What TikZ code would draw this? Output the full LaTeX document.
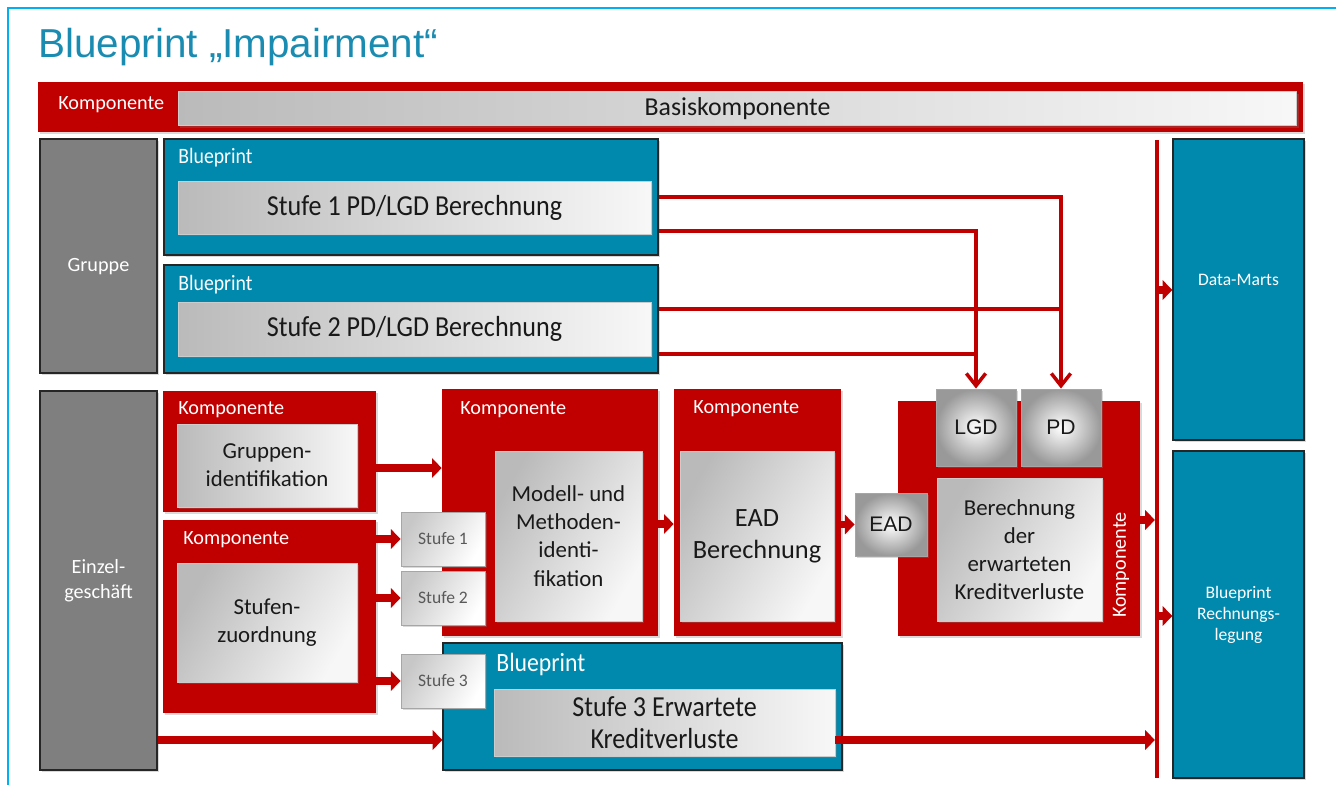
\documentclass[tikz,border=0pt]{standalone}
\usepackage{fontspec}
\setmainfont{Carlito}
\newfontfamily\arialfont{Liberation Sans}
\newfontfamily\narrowfont[FakeStretch=0.9]{Carlito}
\usetikzlibrary{arrows.meta, shadows, calc}
\definecolor{IMRed}{RGB}{192,0,0}
\definecolor{IMTeal}{RGB}{0,137,173}
\definecolor{IMTitle}{RGB}{26,140,178}
\definecolor{IMFrame}{RGB}{0,176,240}
\definecolor{IMGray}{RGB}{127,127,127}

\begin{document}
\begin{tikzpicture}[x=0.02cm, y=-0.02cm,
            shade/.style={drop shadow={shadow xshift=1.2pt, shadow yshift=-1.2pt, opacity=0.3}},
            comp/.style={rectangle, fill=IMRed, inner sep=0pt, shade},
            comptag/.style={anchor=west, inner sep=0pt, text=white,
                            font=\fontsize{11.5}{14}\selectfont},
            bp/.style={rectangle, fill=IMTeal, draw=black!85, line width=0.8pt,
                       text=white, align=center, font=\fontsize{10}{12}\selectfont, shade},
            bptag/.style={anchor=west, inner sep=0pt, text=white,
                          font=\narrowfont\fontsize{12.5}{15}\selectfont},
            lvl/.style={rectangle, fill=IMGray, draw=black!85, line width=0.8pt,
                        text=white, align=center, font=\fontsize{11.5}{14}\selectfont, shade},
            pane/.style={rectangle, left color=black!27, right color=black!3,
                         draw=black!20, line width=0.5pt, align=center, text=black!90,
                         font=\fontsize{13}{16}\selectfont, shade},
            diag/.style={shading angle=60},
            stufebox/.style={rectangle, left color=black!22, right color=white, shading angle=60,
                             draw=black!35, line width=0.5pt, text=black!65,
                             minimum width=1.68cm, minimum height=1.08cm,
                             font=\fontsize{10}{12}\selectfont, shade},
            knob/.style={rectangle, inner color=white, outer color=black!40,
                         draw=black!35, line width=0.5pt, text=black!90,
                         font=\arialfont\fontsize{12}{14}\selectfont, shade},
            wire/.style={IMRed, line width=2pt},
            link/.style={wire, -{Straight Barb[length=7pt, width=11pt]}},
            flow/.style={IMRed, line width=4.5pt, -{Triangle[length=5.5pt, width=11pt]}}
          ]
          \useasboundingbox (0,0) rectangle (1336,785);
          \draw[IMFrame, line width=1.2pt] (8,785) -- (8,8) -- (1336,8);
          \node[anchor=base west, inner sep=0pt, text=IMTitle,
                font=\arialfont\fontsize{23}{28}\selectfont] (title) at (38,57) {Blueprint „Impairment“};

          \node[comp, minimum width=25.3cm, minimum height=1cm] (basis) at (670.5,107) {};
          \node[comptag] at (58,105) {Komponente};
          \node[pane, minimum width=22.38cm, minimum height=0.62cm,
                font=\fontsize{14.7}{17}\selectfont] (basisin) at (737.5,108.5) {Basiskomponente};

          \node[lvl, minimum width=2.34cm, minimum height=4.68cm,
                text height=18pt, text depth=0pt] (grp) at (98.5,256) {Gruppe};
          \node[lvl, minimum width=2.34cm, minimum height=7.58cm] (einz) at (98.5,580.5) {Einzel-\\gesch\"aft};

          \node[bp, minimum width=9.88cm, minimum height=2.32cm] (bp1) at (411,197) {};
          \node[bptag] at (178,158) {Blueprint};
          \node[pane, minimum width=9.46cm, minimum height=1.06cm,
                font=\narrowfont\fontsize{16.5}{18}\selectfont] (s1pd) at (414.5,207.5) {Stufe 1 PD/LGD Berechnung};
          \node[bp, minimum width=9.88cm, minimum height=2.16cm] (bp2) at (411,319) {};
          \node[bptag] at (178,285) {Blueprint};
          \node[pane, minimum width=9.46cm, minimum height=1.08cm,
                font=\narrowfont\fontsize{16.5}{18}\selectfont] (s2pd) at (414.5,329) {Stufe 2 PD/LGD Berechnung};

          \node[bp, minimum width=2.62cm, minimum height=6.02cm,
                text height=6pt, text depth=11pt] (dm) at (1238.5,289.5) {Data-Marts};
          \node[bp, minimum width=2.62cm, minimum height=6.54cm] (rl) at (1238.5,614.5) {Blueprint\\Rechnungs-\\legung};
          \coordinate (railtop) at (1157,140);
          \coordinate (railbot) at (1157,778);
          \draw[IMRed, line width=2.5pt] (railtop) -- (railbot);

          \node[comp, minimum width=4.26cm, minimum height=2.42cm] (gcomp) at (269.5,451.5) {};
          \node[comptag] at (178,410) {Komponente};
          \node[pane, minimum width=3.6cm, minimum height=1.66cm] (gid) at (267,465.5) {Gruppen-\\identifikation};
          \node[comp, minimum width=4.26cm, minimum height=3.86cm] (scomp) at (269.5,616.5) {};
          \node[comptag] at (183,540) {Komponente};
          \node[pane, diag, minimum width=3.6cm, minimum height=2.38cm] (szu) at (267,622.5) {Stufen-\\zuordnung};

          \node[comp, minimum width=4.32cm, minimum height=4.94cm] (mcomp) at (550,512.5) {};
          \node[comptag] at (460,410) {Komponente};
          \node[pane, diag, minimum width=2.94cm, minimum height=3.4cm] (mid) at (568.5,536)
                {Modell- und\\Methoden-\\identi-\\fikation};

          \node[bp, minimum width=7.98cm, minimum height=2.54cm] (bp3) at (642.5,706.5) {};
          \node[bptag, font=\narrowfont\fontsize{15}{18}\selectfont] at (496,664) {Blueprint};
          \node[pane, minimum width=6.82cm, minimum height=1.34cm,
                font=\narrowfont\fontsize{16.5}{18}\selectfont] (s3e) at (664.5,722.5) {Stufe 3 Erwartete\\Kreditverluste};

          \node[stufebox] (st1) at (443,539) {Stufe 1};
          \node[stufebox] (st2) at (443,598) {Stufe 2};
          \node[stufebox] (st3) at (443,681) {Stufe 3};

          \node[comp, minimum width=3.34cm, minimum height=4.94cm] (ecomp) at (757.5,512.5) {};
          \node[comptag] at (693,409) {Komponente};
          \node[pane, diag, minimum width=3.08cm, minimum height=3.4cm,
                font=\fontsize{15}{18}\selectfont] (eadb) at (757,536) {EAD\\Berechnung};

          \node[comp, minimum width=4.84cm, minimum height=4.7cm] (bcomp) at (1019,518.5) {};
          \node[comptag, rotate=90, anchor=center] at (1121,565) {Komponente};
          \node[knob, minimum width=1.6cm, minimum height=1.54cm] (lgd) at (976,427.5) {LGD};
          \node[knob, minimum width=1.6cm, minimum height=1.54cm] (pd) at (1061,427.5) {PD};
          \node[pane, diag, minimum width=3.3cm, minimum height=2.86cm] (bev) at (1019.5,549.5)
                {Berechnung\\der\\erwarteten\\Kreditverluste};
          \node[knob, minimum width=1.44cm, minimum height=1.26cm] (ead) at (891,524.5) {EAD};

          \draw[link] (bp1.east |- 0,197) -| (pd.north);
          \draw[link] (bp1.east |- 0,231) -| (lgd.north);
          \draw[wire] (bp2.east |- 0,309) -- (pd.north |- 0,309);
          \draw[wire] (bp2.east |- 0,354) -- (lgd.north |- 0,354);

          \draw[flow] (gcomp.east |- 0,468) -- (mcomp.west |- 0,468);
          \draw[flow] (scomp.east |- st1.west) -- (st1.west);
          \draw[flow] (scomp.east |- st2.west) -- (st2.west);
          \draw[flow] (scomp.east |- st3.west) -- (st3.west);
          \draw[flow] (einz.east |- 0,740) -- (bp3.west |- 0,740);
          \draw[flow] (mcomp.east |- 0,524) -- (ecomp.west |- 0,524);
          \draw[flow] (ecomp.east |- ead.west) -- (ead.west);
          \draw[flow, shorten >=1.2pt] (bcomp.east |- 0,520) -- (railtop |- 0,520);
          \draw[flow, shorten >=1.2pt] (s3e.east |- 0,740) -- (railtop |- 0,740);
          \draw[flow] (railtop |- 0,290) -- (dm.west |- 0,290);
          \draw[flow] (railtop |- 0,616) -- (rl.west |- 0,616);
        \end{tikzpicture}
\end{document}
